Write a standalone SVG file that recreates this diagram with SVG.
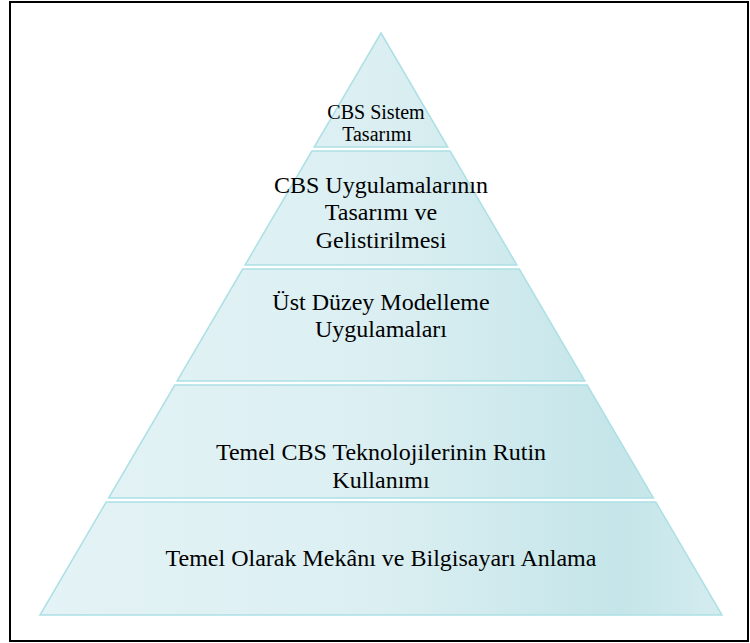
<svg xmlns="http://www.w3.org/2000/svg" width="750" height="643" viewBox="0 0 750 643">
  <style>
    .band { fill: url(#g); stroke: #ace0e5; stroke-width: 1.5; stroke-linejoin: miter; }
    text { font-family: 'Liberation Serif', 'DejaVu Serif', serif; font-size: 24px; fill: #000000; text-anchor: middle; }
    text.t1 { font-size: 20px; }
  </style>
  <defs>
    <linearGradient id="g" gradientUnits="userSpaceOnUse" x1="40" y1="0" x2="722" y2="0">
      <stop offset="0" stop-color="#e4f3f5"/>
      <stop offset="0.5" stop-color="#dbeff2"/>
      <stop offset="0.85" stop-color="#c4e5e9"/>
      <stop offset="1" stop-color="#d4ecef"/>
    </linearGradient>
  </defs>
  <rect x="10" y="2" width="738" height="639" fill="#ffffff" stroke="#000000" stroke-width="2"/>
  <g id="node-1">
    <polygon class="band" points="381,33 447.8,147 314.2,147"/>
    <text class="t1" x="376" y="119" font-family="Liberation Serif, serif">CBS Sistem</text>
    <text class="t1" x="377" y="141" font-family="Liberation Serif, serif">Tasarımı</text>
  </g>
  <g id="node-2">
    <polygon class="band" points="311.9,151 450.1,151 516.9,265 245.1,265"/>
    <text x="381" y="193" font-family="Liberation Serif, serif">CBS Uygulamalarının</text>
    <text x="381" y="220" font-family="Liberation Serif, serif">Tasarımı ve</text>
    <text x="381" y="248" font-family="Liberation Serif, serif">Gelistirilmesi</text>
  </g>
  <g id="node-3">
    <polygon class="band" points="242.7,269 519.3,269 584.9,381 177.1,381"/>
    <text x="381" y="310" font-family="Liberation Serif, serif">Üst Düzey Modelleme</text>
    <text x="381" y="337" font-family="Liberation Serif, serif">Uygulamaları</text>
  </g>
  <g id="node-4">
    <polygon class="band" points="174.8,385 587.2,385 653.4,498 108.6,498"/>
    <text x="381" y="460" font-family="Liberation Serif, serif">Temel CBS Teknolojilerinin Rutin</text>
    <text x="381" y="488" font-family="Liberation Serif, serif">Kullanımı</text>
  </g>
  <g id="node-5">
    <polygon class="band" points="106.2,502 655.8,502 722,615 40,615"/>
    <text x="381" y="566" font-family="Liberation Serif, serif">Temel Olarak Mekânı ve Bilgisayarı Anlama</text>
  </g>
  <g id="connectors"></g>
</svg>
